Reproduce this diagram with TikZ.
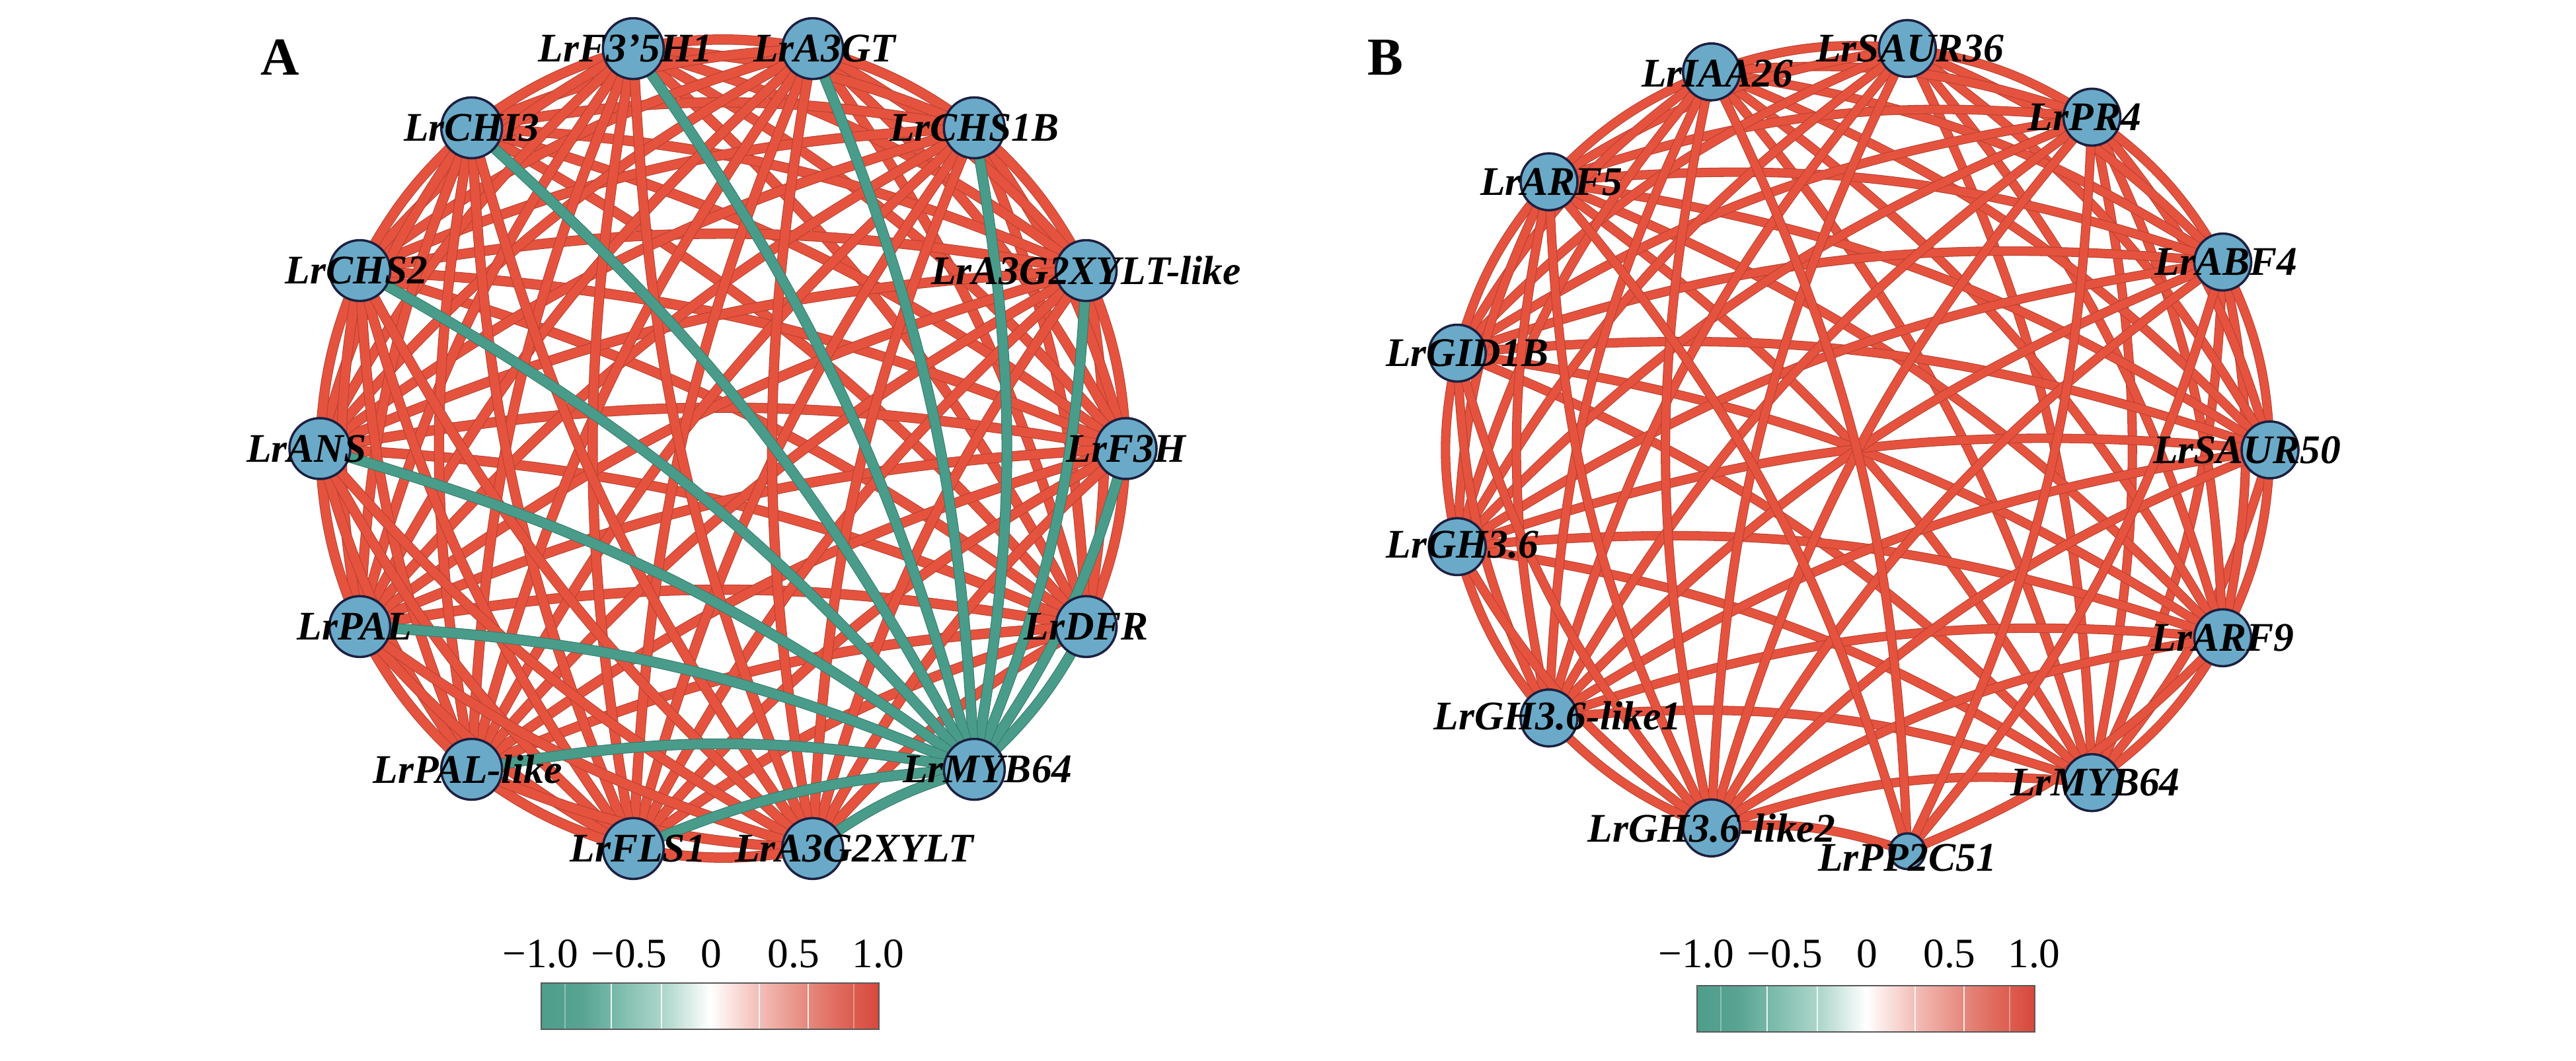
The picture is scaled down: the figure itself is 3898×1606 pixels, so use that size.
\documentclass[tikz,border=0pt]{standalone}
\usepackage{fontspec}
\setmainfont{Liberation Serif}
\pgfdeclarelayer{bg}
\pgfdeclarelayer{edges}
\pgfsetlayers{bg,edges,main}
\definecolor{edgered}{HTML}{E5533F}
\definecolor{edgeredline}{HTML}{B9402F}
\definecolor{edgegreen}{HTML}{4A9C8A}
\definecolor{edgegreenline}{HTML}{357A6B}
\definecolor{nodefill}{HTML}{6AAAC8}
\definecolor{nodeline}{HTML}{1C2040}
\definecolor{cb0}{RGB}{79,157,139}
\definecolor{cb1}{RGB}{88,163,146}
\definecolor{cb2}{RGB}{128,190,175}
\definecolor{cb3}{RGB}{178,216,205}
\definecolor{cb5}{RGB}{244,196,190}
\definecolor{cb6}{RGB}{233,150,140}
\definecolor{cb7}{RGB}{223,106,93}
\definecolor{cb8}{RGB}{215,72,60}
\pgfdeclarehorizontalshading{cbarshade}{100bp}{color(0bp)=(cb0); color(25bp)=(cb0); color(31bp)=(cb1); color(37bp)=(cb2); color(43.5bp)=(cb3); color(50bp)=(white); color(56.5bp)=(cb5); color(62.5bp)=(cb6); color(69bp)=(cb7); color(75bp)=(cb8); color(100bp)=(cb8)}
\tikzset{
  genenode/.style={circle, fill=nodefill, draw=nodeline, line width=1pt, inner sep=0pt, minimum size=#1},
  genelabel/.style={font=\fontsize{17.5}{17.5}\selectfont\bfseries\itshape, text=black, inner sep=0pt},
  redge/.style={draw=edgeredline, line width=0.3pt, double=edgered, double distance=3.8pt},
  redgeb/.style={draw=edgeredline, line width=0.3pt, double=edgered, double distance=3.4pt},
  gedge/.style={draw=edgegreenline, line width=0.3pt, double=edgegreen, double distance=4.0pt},
  ticklabel/.style={font=\fontsize{18}{18}\selectfont, anchor=base, inner sep=0pt},
  panel/.style={font=\fontsize{23}{23}\selectfont\bfseries, inner sep=0pt},
  divline/.style={draw=white, line width=0.6pt, opacity=0.85},
  faintline/.style={draw=white, line width=0.5pt, opacity=0.35},
}
\begin{document}
\begin{tikzpicture}[x=0.01cm, y=0.01cm]
\begin{pgfonlayer}{bg}
\fill[white] (0,0) rectangle (3898,1606);
\end{pgfonlayer}
\useasboundingbox (0,0) rectangle (3898,1606);

% ---------- Panel A nodes ----------
\foreach \i/\txt/\dx in {0/LrMYB64/20, 1/LrDFR/0, 2/LrF3H/0, 3/LrA3G2XYLT-like/0, 4/LrCHS1B/0, 5/LrA3GT/18, 6/LrF3'5H1/-12, 7/LrCHI3/0, 8/LrCHS2/-5, 9/LrANS/-20, 10/LrPAL/-8, 11/LrPAL-like/-6, 12/LrFLS1/7, 13/LrA3G2XYLT/63}{
  \pgfmathsetmacro\ang{(\i-2)*360/14}
  \node[genenode=0.92cm, label={[genelabel, xshift=\dx*0.2845pt]center:\txt}] (a\i) at ({1094+610*cos(\ang)},{927+621*sin(\ang)}) {};
}

% ---------- Panel B nodes ----------
\foreach \i/\txt/\dx/\dy/\sz in {0/LrPP2C51/0/-10/0.54cm, 1/LrMYB64/5/0/0.86cm, 2/LrARF9/0/0/0.86cm, 3/LrSAUR50/-35/0/0.86cm, 4/LrABF4/5/0/0.86cm, 5/LrPR4/-11/0/0.86cm, 6/LrSAUR36/4/0/0.86cm, 7/LrIAA26/9/-3/0.86cm, 8/LrARF5/4/0/0.86cm, 9/LrGID1B/15/0/0.86cm, 10/LrGH3.6/8/3/0.86cm, 11/LrGH3.6-like1/13/3/0.86cm, 12/LrGH3.6-like2/0/0/0.86cm}{
  \pgfmathsetmacro\ang{(\i-3)*360/13}
  \node[genenode=\sz, label={[genelabel, xshift=\dx*0.2845pt, yshift=\dy*0.2845pt]center:\txt}] (b\i) at ({2811+624*cos(\ang)},{925+612*sin(\ang)}) {};
}

% ---------- Edges ----------
\begin{pgfonlayer}{edges}
\foreach \i in {1,...,13}{
  \foreach \j in {\i,...,13}{
    \ifnum\j>\i\relax
      \path[redge] (a\i.center) to[bend right=10] (a\j.center);
    \fi
  }
}
\foreach \j in {1,...,13}{
  \path[gedge] (a0.center) to[bend right=10] (a\j.center);
}
\foreach \i in {1,...,12}{
  \foreach \j in {\i,...,12}{
    \ifnum\j>\i\relax
      \path[redgeb] (b\i.center) to[bend right=12] (b\j.center);
    \fi
  }
}
\foreach \j in {2,4,5,7,8,12}{
  \path[redgeb] (b0.center) to[bend right=12] (b\j.center);
}
\end{pgfonlayer}

% ---------- Panel letters ----------
\node[panel] (pA) at (424,1519) {A};
\node[panel] (pB) at (2096,1519) {B};

% ---------- Colour bars ----------
\foreach \p/\ox/\oy in {A/0/0, B/1749/-4}{
  \shade[shading=cbarshade] (819+\ox,48+\oy) rectangle (1330+\ox,118+\oy);
  \foreach \xx in {925,1001,1149,1223}{
    \path[divline] (\xx+\ox,48+\oy) -- (\xx+\ox,118+\oy);
  }
  \foreach \xx in {855,1292}{
    \path[faintline] (\xx+\ox,48+\oy) -- (\xx+\ox,118+\oy);
  }
  \draw[black!65, line width=0.5pt] (819+\ox,48+\oy) rectangle (1330+\ox,118+\oy);
  \node[ticklabel] (t\p1) at (818+\ox,141) {−1.0};
  \node[ticklabel] (t\p2) at (952+\ox,141) {−0.5};
  \node[ticklabel] (t\p3) at (1076+\ox,141) {0};
  \node[ticklabel] (t\p4) at (1201+\ox,141) {0.5};
  \node[ticklabel] (t\p5) at (1329+\ox,141) {1.0};
}
\end{tikzpicture}
\end{document}
